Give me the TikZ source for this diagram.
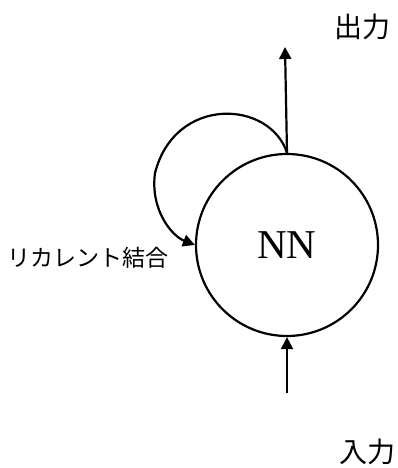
\documentclass[tikz,border=0pt]{standalone}
\usepackage{fontspec}
\setmainfont{Liberation Serif}
\newfontfamily\jpfont{Noto Sans CJK JP}
\usetikzlibrary{arrows.meta}
\begin{document}
\begin{tikzpicture}[x=1pt,y=-1pt,
  conn/.style={line width=2.2pt,-{Triangle[length=12pt,width=12pt]}},
  jplabel/.style={font=\jpfont\fontsize{22}{26}\selectfont,inner sep=0pt}]
\useasboundingbox (0,0) rectangle (397,468);
\node[draw,circle,line width=2.2pt,minimum size=182pt,inner sep=0pt,
      font=\fontsize{41}{45}\selectfont] (nn) at (287,245) {NN};
\coordinate (out) at (285,47);
\coordinate (in) at (287,393);
\draw[conn] (nn.north) -- (out);
\draw[conn] (in) -- (nn.south);
\draw[conn] (nn.north) .. controls (270,100) and (175,95) .. (155,173)
   .. controls (150,210) and (172,236) .. (nn.west);
\node[jplabel,font=\jpfont\fontsize{28}{32}\selectfont] (outl) at (362,27) {出力};
\node[jplabel,font=\jpfont\fontsize{28}{32}\selectfont] (inl) at (367,452) {入力};
\node[jplabel,font=\jpfont\fontsize{23}{27}\selectfont] (rec) at (88,258) {リカレント結合};
\end{tikzpicture}
\end{document}
